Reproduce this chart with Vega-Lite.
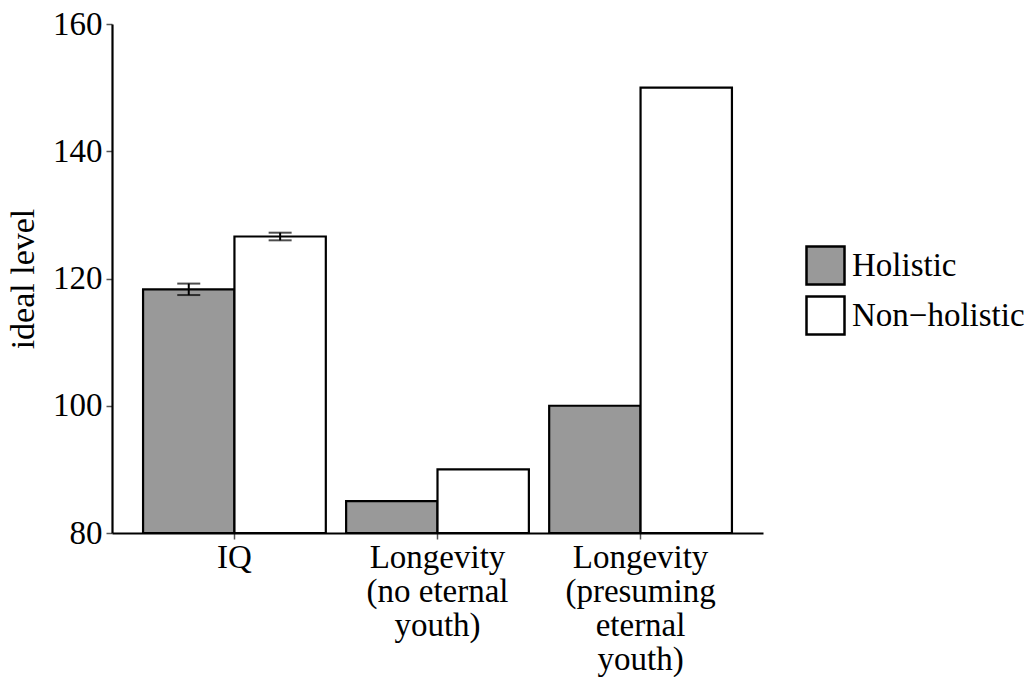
{
  "$schema": "https://vega.github.io/schema/vega-lite/v6.json",
  "width": 651,
  "height": 509,
  "autosize": "none",
  "padding": {"left": 112, "top": 24, "right": 267, "bottom": 144},
  "background": "white",
  "config": {
    "view": {"stroke": null},
    "font": "Liberation Serif"
  },
  "data": {
    "values": [
      {"measure": "IQ", "group": "Holistic", "value": 118.3, "lo": 117.4, "hi": 119.2},
      {"measure": "IQ", "group": "Non−holistic", "value": 126.6, "lo": 126.0, "hi": 127.2},
      {"measure": "Longevity|(no eternal|youth)", "group": "Holistic", "value": 85},
      {"measure": "Longevity|(no eternal|youth)", "group": "Non−holistic", "value": 90},
      {"measure": "Longevity|(presuming|eternal|youth)", "group": "Holistic", "value": 100},
      {"measure": "Longevity|(presuming|eternal|youth)", "group": "Non−holistic", "value": 150}
    ]
  },
  "encoding": {
    "x": {
      "field": "measure",
      "type": "nominal",
      "sort": null,
      "scale": {"paddingInner": 0.1, "paddingOuter": 0.153},
      "axis": {
        "title": null,
        "labelAngle": 0,
        "labelExpr": "split(datum.label, '|')",
        "labelFont": "Liberation Serif",
        "labelFontSize": 33,
        "labelLineHeight": 34,
        "labelColor": "black",
        "labelPadding": 2,
        "labelLimit": 0,
        "tickSize": 6,
        "tickColor": "#555555",
        "tickWidth": 1.5,
        "domainColor": "black",
        "domainWidth": 2.2
      }
    },
    "xOffset": {
      "field": "group",
      "type": "nominal",
      "scale": {"paddingInner": 0, "paddingOuter": 0}
    }
  },
  "layer": [
    {
      "mark": {"type": "bar", "stroke": "black", "strokeWidth": 2.2},
      "encoding": {
        "y": {
          "field": "value",
          "type": "quantitative",
          "scale": {"domain": [80, 160], "nice": false, "zero": false},
          "axis": {
            "title": "ideal level",
            "titleFont": "Liberation Serif",
            "titleFontSize": 34,
            "titleFontWeight": "normal",
            "titleColor": "black",
            "titlePadding": 12,
            "values": [80, 100, 120, 140, 160],
            "grid": false,
            "labelFont": "Liberation Serif",
            "labelFontSize": 33,
            "labelColor": "black",
            "labelPadding": 4,
            "tickSize": 6,
            "tickColor": "#555555",
            "tickWidth": 1.5,
            "domainColor": "black",
            "domainWidth": 2.2
          }
        },
        "y2": {"datum": 80},
        "fill": {
          "field": "group",
          "type": "nominal",
          "scale": {"domain": ["Holistic", "Non−holistic"], "range": ["#999999", "#ffffff"]},
          "legend": {
            "title": null,
            "orient": "none",
            "legendX": 693,
            "legendY": 221,
            "padding": 0,
            "symbolType": "square",
            "symbolSize": 1444,
            "symbolStrokeColor": "black",
            "symbolStrokeWidth": 2.5,
            "symbolOpacity": 1,
            "labelFont": "Liberation Serif",
            "labelFontSize": 33,
            "labelColor": "black",
            "labelOffset": 6,
            "labelLimit": 0,
            "rowPadding": 1
          }
        }
      }
    },
    {
      "transform": [{"filter": "isValid(datum.lo)"}],
      "mark": {"type": "rule", "color": "black", "strokeWidth": 2},
      "encoding": {
        "y": {"field": "lo", "type": "quantitative"},
        "y2": {"field": "hi"}
      }
    },
    {
      "transform": [{"filter": "isValid(datum.lo)"}],
      "mark": {"type": "tick", "color": "black", "thickness": 2, "size": 23},
      "encoding": {
        "y": {"field": "lo", "type": "quantitative"}
      }
    },
    {
      "transform": [{"filter": "isValid(datum.lo)"}],
      "mark": {"type": "tick", "color": "black", "thickness": 2, "size": 23},
      "encoding": {
        "y": {"field": "hi", "type": "quantitative"}
      }
    }
  ]
}
